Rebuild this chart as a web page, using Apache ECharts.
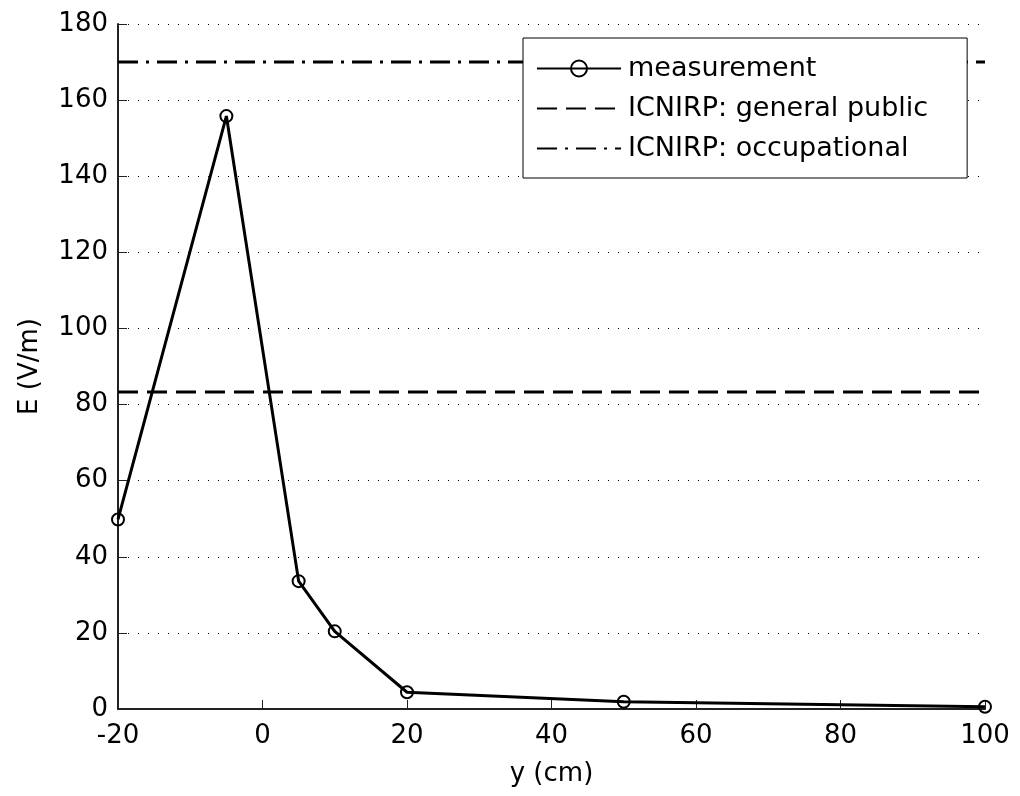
<!DOCTYPE html>
<html>
<head>
<meta charset="utf-8">
<script src="https://cdn.jsdelivr.net/npm/echarts@6/dist/echarts.min.js"></script>
<style>
  html, body { margin: 0; padding: 0; background: #fff; }
  #chart { width: 1020px; height: 796px; }
</style>
</head>
<body>
<div id="chart"></div>
<script>
// measured field vs. position
var positions = [-20, -5, 5, 10, 20, 50, 100]
var fieldValues = [49.8, 155.8, 33.6, 20.4, 4.4, 1.9, 0.6]
// ICNIRP reference levels
var limitSpan = [-20, 100]
var publicLimit = 83.3
var occupationalLimit = 170
var seriesNames = ['measurement', 'ICNIRP: general public', 'ICNIRP: occupational']

var fontName = 'DejaVu Sans'
var fontSize = 26
var chart = echarts.init(document.getElementById('chart'))

var option = {
  backgroundColor: '#fff',
  animation: false,
  textStyle: { fontFamily: fontName },
  grid: { left: 118, right: 35, top: 24, bottom: 87 },
  legend: {
    orient: 'vertical',
    left: 523,
    top: 38,
    padding: [17, 39, 16, 13],
    itemWidth: 84,
    itemHeight: 20,
    itemGap: 13,
    backgroundColor: '#fff',
    borderColor: '#000',
    borderWidth: 1,
    borderRadius: 0,
    textStyle: { fontSize: 27, lineHeight: 27, color: '#000', fontFamily: fontName, padding: [0, 0, 0, 2] },
    data: [
      { name: seriesNames[0] },
      { name: seriesNames[1], itemStyle: { opacity: 0 } },
      { name: seriesNames[2], itemStyle: { opacity: 0 } }
    ]
  },
  xAxis: {
    type: 'value',
    min: -20,
    max: 100,
    interval: 20,
    name: 'y (cm)',
    nameLocation: 'middle',
    nameGap: 52,
    nameTextStyle: { fontSize: fontSize, color: '#000', fontFamily: fontName },
    axisLine: { onZero: false, lineStyle: { color: '#222', width: 2 } },
    axisTick: { inside: true, length: 9, lineStyle: { color: '#222' } },
    axisLabel: { fontSize: fontSize, color: '#000', margin: 14, fontFamily: fontName },
    splitLine: { show: false }
  },
  yAxis: {
    type: 'value',
    min: 0,
    max: 180,
    interval: 20,
    name: 'E (V/m)',
    nameLocation: 'middle',
    nameGap: 75,
    nameTextStyle: { fontSize: fontSize, color: '#000', fontFamily: fontName },
    axisLine: { show: true, onZero: false, lineStyle: { color: '#222', width: 2 } },
    axisTick: { show: true, inside: true, length: 9, lineStyle: { color: '#222' } },
    axisLabel: { fontSize: fontSize, color: '#000', margin: 10, fontFamily: fontName },
    splitLine: { show: true, lineStyle: { color: '#000', width: 1, type: [1, 9] } }
  },
  series: [
    {
      name: seriesNames[0],
      type: 'line',
      data: positions.map(function(x, i) { return [x, fieldValues[i]] }),
      symbol: 'circle',
      symbolSize: 12,
      lineStyle: { color: '#000', width: 3 },
      itemStyle: { color: 'rgba(0,0,0,0)', borderColor: '#000', borderWidth: 2 },
      z: 5
    },
    {
      name: seriesNames[1],
      type: 'line',
      data: limitSpan.map(function(x) { return [x, publicLimit] }),
      showSymbol: false,
      symbol: 'none',
      lineStyle: { color: '#000', width: 3, type: [20, 9] },
      itemStyle: { color: '#000' }
    },
    {
      name: seriesNames[2],
      type: 'line',
      data: limitSpan.map(function(x) { return [x, occupationalLimit] }),
      showSymbol: false,
      symbol: 'none',
      lineStyle: { color: '#000', width: 3, type: [20, 8, 3, 8] },
      itemStyle: { color: '#000' }
    }
  ]
}
chart.setOption(option)
</script>
</body>
</html>
